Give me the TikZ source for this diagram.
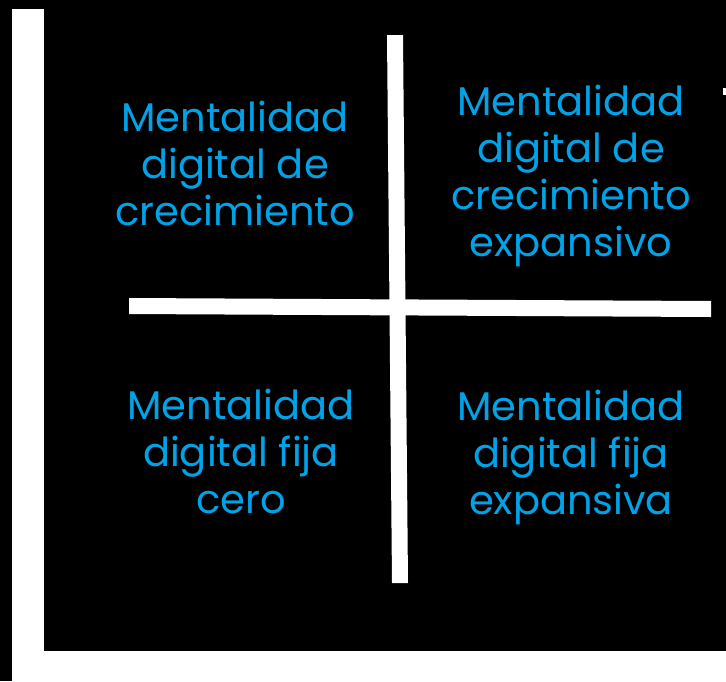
\documentclass[tikz,border=0pt]{standalone}
\usepackage{fontspec}
\setmainfont{Poppins}
\definecolor{txtblue}{HTML}{00A3E8}
\begin{document}
\begin{tikzpicture}[x=1pt,y=-1pt,
  lbl/.style={text=txtblue, align=center, font=\fontsize{40}{47}\selectfont, inner sep=0pt},
  bar/.style={fill=white, draw=none}]
\useasboundingbox (0,0) rectangle (726,681);
\fill[black] (0,0) rectangle (726,681);
% frame
\fill[white] (12,9) rectangle (44,681);
\fill[white] (12,651) rectangle (726,681);
\fill[white] (723,88) rectangle (726,95);
% cross
\path[bar] (129,298) -- (711,301) -- (711,317) -- (129,314) -- cycle;
\path[bar] (387,35) -- (403,35) -- (408,583) -- (392,583) -- cycle;
% labels
\node[lbl] (tl) at (235,163) {Mentalidad\\digital de\\crecimiento};
\node[lbl] (tr) at (571,176) {Mentalidad\\digital de\\crecimiento\\expansivo};
\node[lbl] (bl) at (241,451) {Mentalidad\\digital fija\\cero};
\node[lbl] (br) at (571,457) {Mentalidad\\digital fija\\expansiva};
\end{tikzpicture}
\end{document}
